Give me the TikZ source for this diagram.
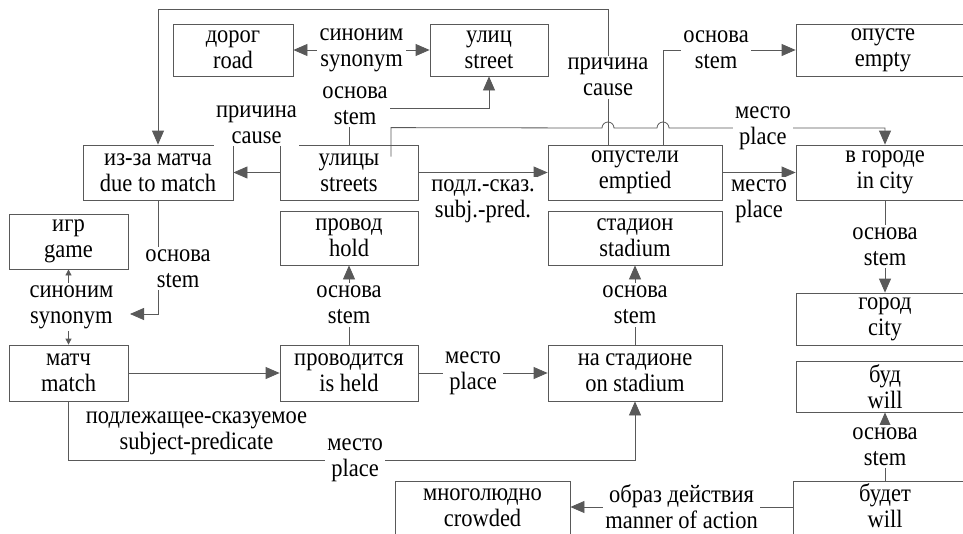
\documentclass[tikz,border=0pt]{standalone}
\usepackage{fontspec}
\setmainfont[FakeStretch=0.9]{Liberation Serif}
\usetikzlibrary{arrows.meta}
\begin{document}
\begin{tikzpicture}
[x=1pt,y=-1pt,
>={Triangle[length=14pt,width=12pt]},
every node/.style={font=\fontsize{25}{26}\selectfont},
wordbox/.style={draw=black!65,line width=0.8pt,minimum height=55pt,align=center,inner sep=0pt},
linkline/.style={draw=black!65,line width=0.8pt},
mylabel/.style={fill=white,align=center,inner sep=2.5pt},
smallarrow/.style={{Triangle[length=6pt,width=6pt]}-{Triangle[length=6pt,width=6pt]}}]
  \useasboundingbox (0,0) rectangle (963,533);
  % top row
  \node [wordbox, minimum width=120pt, minimum height=52pt] (road) at (233,50) {дорог\\road};
  \node [wordbox, minimum width=118pt, minimum height=52pt] (street) at (489,50) {улиц\\street};
  \node [wordbox, minimum width=174pt, minimum height=52pt] (empty) at (883,50) {опусте\\empty};
  % second row
  \node [wordbox, minimum width=150pt] (izza) at (158,172.5) {из-за матча\\due to match};
  \node [wordbox, minimum width=138pt] (streets) at (349,172.5) {улицы\\streets};
  \node [wordbox, minimum width=174pt] (emptied) at (635,172.5) {опустели\\emptied};
  \node [wordbox, minimum width=178pt] (incity) at (885,172.5) {в городе\\in city};
  % third row
  \node [wordbox, minimum width=119pt] (game) at (68.5,241.5) {игр\\game};
  \node [wordbox, minimum width=138pt, minimum height=54pt] (hold) at (349,238) {провод\\hold};
  \node [wordbox, minimum width=174pt, minimum height=54pt] (stadium) at (635,238) {стадион\\stadium};
  \node [wordbox, minimum width=178pt, minimum height=52pt] (city) at (885,319) {город\\city};
  % fourth row
  \node [wordbox, minimum width=119pt, minimum height=56pt] (match) at (68.5,373) {матч\\match};
  \node [wordbox, minimum width=138pt, minimum height=56pt] (isheld) at (349,373) {проводится\\is held};
  \node [wordbox, minimum width=174pt, minimum height=56pt] (onstadium) at (635,373) {на стадионе\\on stadium};
  \node [wordbox, minimum width=178pt, minimum height=51pt] (bud) at (885,386.5) {буд\\will};
  % bottom row
  \node [wordbox, minimum width=175pt, minimum height=54pt] (crowded) at (482.5,508) {многолюдно\\crowded};
  \node [wordbox, minimum width=184pt, minimum height=54pt, text depth=4pt] (budet) at (885,508) {будет\\will};
  \coordinate (synend) at (130,314);

  \draw [linkline,<->] (road) -- node[mylabel]{синоним\\synonym} (street);
  \draw [linkline,->] (streets.north) |- node[mylabel,xshift=6pt,yshift=3pt]{основа\\stem} ([yshift=-32pt]street.south) -- (street.south);
  \draw [linkline,->] ([xshift=42pt,yshift=-12pt]streets.north) -- ++(0,-29) -- (602,128)
    arc[start angle=180,end angle=0,radius=6pt] -- (657,128)
    arc[start angle=180,end angle=0,radius=6pt] -- node[mylabel,pos=0.435]{место\\place} (885,128) -- (incity.north);
  \draw [linkline,->] ([xshift=-27pt]emptied.north) -- node[mylabel]{причина\\cause} ++(0,-135) -| (izza.north);
  \draw [linkline,->] ([xshift=28pt]emptied.north) |- node[mylabel,pos=0.7]{основа\\stem} (empty.west);
  \draw [linkline,->] (streets.west) -- node[mylabel,yshift=48pt]{причина\\cause} (izza.east);
  \draw [linkline,->] (streets.east) -- node[mylabel,yshift=-29pt]{подл.-сказ.\\subj.-pred.} (emptied.west);
  \draw [linkline,->] (emptied.east) -- node[mylabel,yshift=-29pt]{место\\place} (incity.west);
  \draw [linkline,->] (incity.south) -- node[mylabel]{основа\\stem} (city.north);
  \draw [linkline,->] (izza.south) |- node[mylabel,pos=0.3,xshift=20pt]{основа\\stem} (synend);
  \draw [linkline,smallarrow] (game.south) -- node[mylabel,xshift=3pt]{синоним\\synonym} (match.north);
  \draw [linkline,->] (isheld.north) -- node[mylabel]{основа\\stem} (hold.south);
  \draw [linkline,->] (match.east) -- (isheld.west);
  \draw [linkline,->] (isheld.east) -- node[mylabel,xshift=-10pt]{место\\place} (onstadium.west);
  \draw [linkline,->] (onstadium.north) -- node[mylabel]{основа\\stem} (stadium.south);
  \draw [linkline,->] (match.south) -- ++(0,59) -| node[mylabel,pos=0.113,yshift=27pt]{подлежащее-сказуемое\\subject-predicate}
    node[mylabel,pos=0.253]{место\\place} (onstadium.south);
  \draw [linkline,->] (budet.north) -- node[mylabel]{основа\\stem} (bud.south);
  \draw [linkline,->] ([yshift=1pt]budet.west) -- node[mylabel]{образ действия\\manner of action} ([yshift=1pt]crowded.east);
\end{tikzpicture}
\end{document}
